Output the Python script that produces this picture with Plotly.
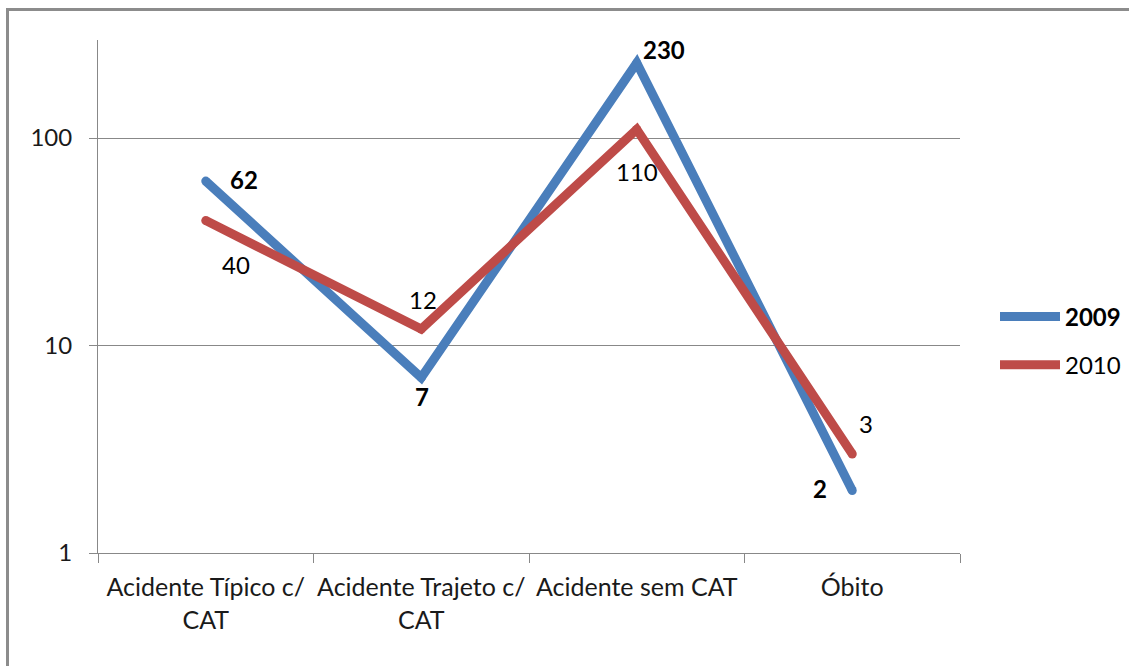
import numpy as np
import plotly.graph_objects as go

categories = ['Acidente Típico c/<br>CAT', 'Acidente Trajeto c/<br>CAT', 'Acidente sem CAT', 'Óbito']
values_2009 = [62, 7, 230, 2]
values_2010 = [40, 12, 110, 3]
y_ticks = [1, 10, 100]

BLUE = '#4A7EBB'
RED = '#BE4B48'
GRID = '#888888'
FONT = 'Lato'
FS = 24
W, H = 1129, 666
L, R, T, B = 98, 169, 40, 113

# label offsets in px (dx, dy) relative to the point, like the excel data labels
off_2009 = [(38, 2), (1, -19), (27, 13), (-32, 2)]
off_2010 = [(30, -44), (2, 30), (0, -42), (14, 31)]

fig = go.Figure()
for name, vals, color, bold in [('2009', values_2009, BLUE, True), ('2010', values_2010, RED, False)]:
    fig.add_trace(go.Scatter(
        x=categories, y=vals, mode='lines',
        line=dict(color=color, width=9),
        name='<b>%s</b>' % name if bold else name,
        legendgroup=name,
    ))
    # round caps / joins
    fig.add_trace(go.Scatter(
        x=categories, y=vals, mode='markers',
        marker=dict(color=color, size=9, line_width=0),
        showlegend=False, hoverinfo='skip',
    ))

annotations = []
for vals, offs, bold in [(values_2009, off_2009, True), (values_2010, off_2010, False)]:
    for c, v, (dx, dy) in zip(categories, vals, offs):
        annotations.append(dict(
            x=c, y=np.log10(v), xref='x', yref='y',
            text='<b>%d</b>' % v if bold else str(v),
            showarrow=False, xshift=dx, yshift=dy,
            font=dict(family=FONT, size=FS, color='#000000'),
        ))

pw = W - L - R
ph = H - T - B
fig.update_layout(
    width=W, height=H,
    margin=dict(l=L, r=R, t=T, b=B, autoexpand=False),
    paper_bgcolor='white', plot_bgcolor='white',
    font=dict(family=FONT, size=FS, color='#000000'),
    annotations=annotations,
    showlegend=True,
    legend=dict(
        x=(995 - L) / pw, xanchor='left',
        y=(553 - 341) / ph, yanchor='middle',
        itemwidth=60, tracegroupgap=14,
        font=dict(family=FONT, size=FS, color='#000000'),
        bgcolor='rgba(0,0,0,0)',
    ),
    shapes=[dict(
        type='rect', xref='paper', yref='paper', layer='below',
        x0=(7.5 - L) / pw, x1=1.3,
        y0=-0.3, y1=1 + (T - 9.5) / ph,
        line=dict(color='#8C8C8C', width=3),
    )],
)
fig.update_xaxes(
    type='category', range=[-0.5, 3.5], automargin=False,
    showline=True, linecolor=GRID, linewidth=1,
    ticks='outside', tickson='boundaries', ticklen=9, tickcolor=GRID,
    ticklabelstandoff=12, tickangle=0,
    showgrid=False, zeroline=False,
    tickfont=dict(family=FONT, size=25, color='#1a1a1a'),
)
fig.update_yaxes(
    type='log', range=[0, 2 + 98 / 207.5], automargin=False,
    tickvals=y_ticks, ticktext=[str(t) for t in y_ticks],
    showline=True, linecolor=GRID, linewidth=1,
    ticks='outside', ticklen=8, tickcolor=GRID,
    ticklabelstandoff=12,
    showgrid=True, gridcolor=GRID, gridwidth=1, zeroline=False,
    tickfont=dict(family=FONT, size=FS, color='#1a1a1a'),
)

# page has a default 8px body margin, drop it so the figure sits at 0,0
fig.write_html('out.html', config={'displayModeBar': False},
               post_script="document.body.style.margin='0';")
